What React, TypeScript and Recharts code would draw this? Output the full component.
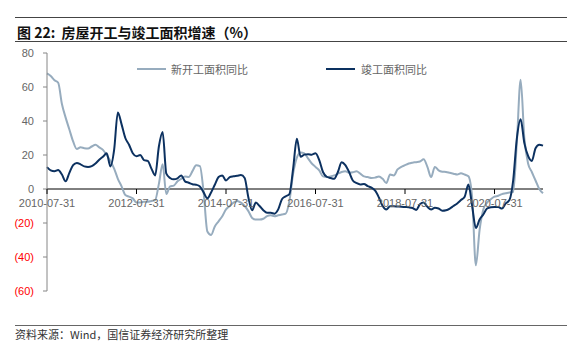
import React from 'react';
import { LineChart, Line, XAxis, YAxis, ReferenceLine } from 'recharts';

// monthly, 2010-07 .. 2021-08
const START_YEAR = 2010;
const START_MONTH = 7;

const newStartYoY = [
  68, 66.5, 64, 62.5, 50, 42, 35, 28, 23.5, 24.5, 24, 23.8, 25, 26, 24.5, 23, 20, 16.5, 12, 6,
  1.5, -3.5, -4.5, -5.5, -8, -8, -7.5, -7.5, -7, -6.5, 3, 14.5, -3, 1.5, 2, 4.5, 6, 7.4, 7, 10.5,
  14, 13.5, -2, -25, -27, -22, -19, -16, -12, -10, -8, -7, -8, -10, -13, -17, -18, -18, -17.5, -16,
  -15.5, -16, -15.5, -15, -14.5, -7, 9, 18.5, 21.5, 21, 18, 15, 13, 11, 7.4, 7, 7.4, 8, 9, 10,
  10.5, 9.5, 9.8, 10.4, 9, 7.4, 7, 6.5, 6.7, 7.4, 6, 3.5, 8.5, 8, 11.5, 13, 14, 15, 15.5, 15.8,
  16.2, 17.5, 13, 7, 13, 11, 10.2, 10, 9.5, 9, 8.5, 9.3, 8.5, 7.5, -5, -44.9, -24, -12, -8, -6,
  -4.5, -4, -3, -2.5, -2, -1.8, 28, 64.3, 30, 15, 10, 5, 0, -2.5,
];

const completionYoY = [
  12.9, 11, 10.5, 11.2, 8.5, 4.5, 9.5, 14, 15.3, 14.5, 13.3, 13, 13.5, 15, 17.2, 19, 21, 13.3, 23, 45,
  38, 30, 26, 21, 19.2, 20, 17, 16.5, 12, 8, 25, 33.5, 9, 6.5, 5.7, 6.3, 8, 4.5, 3.7, 2.8,
  2.5, 1.5, -2, -5.5, -2, 2.5, 7, 8, 5, 7, 7.5, 7.8, 8.2, 6.5, -5, -12.5, -8, -10, -12.5, -14,
  -14, -14.5, -12, -6, -4.3, -3, 12, 29.5, 19, 20.2, 20.5, 20.2, 21, 17, 10, 7.2, 6.5, 6, 10, 15.7,
  14, 10, 5, 3.5, 2.7, 3, 1.7, 0.8, -1, -5, -10, -12, -10.2, -10.2, -10.3, -10.4, -10.6, -10.8, -11.2, -12.3,
  -9, -8, -10.5, -12, -11, -11.5, -12.8, -12.5, -11.5, -10, -8.5, -6.5, -4.5, 2.6, -10, -22.9, -18, -15, -11.5, -10.7,
  -10.6, -10.6, -11.5, -8.5, -6.5, 5, 30, 41, 27, 19.5, 16.5, 24, 26, 25.5,
];

const xTicks = ['2010-07-31', '2012-07-31', '2014-07-31', '2016-07-31', '2018-07-31', '2020-07-31'];
const yTicks = [-60, -40, -20, 0, 20, 40, 60, 80];

const seriesNames = ['新开工面积同比', '竣工面积同比'];
const seriesColors = ['#97acbe', '#0c3160'];

const monthEnd = (k: number) => {
  const m0 = START_MONTH - 1 + k;
  const y = START_YEAR + Math.floor(m0 / 12);
  const m = (m0 % 12) + 1;
  const d = new Date(y, m, 0).getDate();
  return `${y}-${String(m).padStart(2, '0')}-${d}`;
};

const data = newStartYoY.map((v, i) => ({
  date: monthEnd(i),
  newStart: v,
  completion: completionYoY[i],
}));

const W = 582;
const H = 352;
const PLOT_TOP = 53;
const PLOT_BOTTOM = 291;
const X_AXIS_H = 20;
const Y_MIN = -60;
const Y_MAX = 80;
const ZERO_Y = PLOT_TOP + ((PLOT_BOTTOM - PLOT_TOP) * Y_MAX) / (Y_MAX - Y_MIN);

const numFont = '"Liberation Sans", Arial, sans-serif';
const cjkFont = '"Noto Sans CJK SC", "Noto Sans", sans-serif';

// x labels sit on the zero line, not at the bottom of the plot
const XTick = (props: any) => {
  const { x, payload } = props;
  return (
    <g>
      <line x1={x} x2={x} y1={ZERO_Y} y2={ZERO_Y + 5} stroke="#000" strokeWidth={1} />
      <text x={x} y={ZERO_Y + 18} textAnchor="middle" fontSize={11} fill="#666" fontFamily={numFont}>
        {payload.value}
      </text>
    </g>
  );
};

const YTick = (props: any) => {
  const { x, y, payload } = props;
  const v = payload.value as number;
  return (
    <text x={x} y={y + 4} textAnchor="end" fontSize={11} fill={v < 0 ? '#ff0000' : '#666'} fontFamily={numFont}>
      {v < 0 ? `(${Math.abs(v)})` : v}
    </text>
  );
};

const App: React.FC = () => (
  <div style={{ position: 'absolute', left: 0, top: 0, width: W, height: H, background: '#fff', overflow: 'hidden' }}>
    <div style={{ position: 'absolute', left: 15, top: 17, width: 552, borderTop: '1px solid #444' }} />
    <div
      style={{
        position: 'absolute',
        left: 17,
        top: 22,
        fontSize: 14,
        fontWeight: 'bold',
        fontFamily: cjkFont,
        color: '#111',
        whiteSpace: 'nowrap',
      }}
    >
      图 22:&nbsp;&nbsp;房屋开工与竣工面积增速（%）
    </div>
    <div style={{ position: 'absolute', left: 15, top: 41, width: 552, borderTop: '1px solid #444' }} />

    <div style={{ position: 'absolute', left: 0, top: 0 }}>
      <LineChart
        width={W}
        height={H}
        data={data}
        margin={{ top: PLOT_TOP, right: 39, bottom: H - PLOT_BOTTOM - X_AXIS_H, left: 0 }}
      >
        <XAxis
          dataKey="date"
          ticks={xTicks}
          interval={0}
          axisLine={false}
          tickLine={false}
          height={X_AXIS_H}
          tick={(p: any) => <XTick {...p} />}
        />
        <YAxis
          width={47}
          domain={[Y_MIN, Y_MAX]}
          ticks={yTicks}
          interval={0}
          axisLine={{ stroke: '#868686' }}
          tickLine={{ stroke: '#868686' }}
          tickSize={4}
          tickMargin={9}
          tick={(p: any) => <YTick {...p} />}
        />
        <ReferenceLine y={0} stroke="#000" strokeWidth={1} />
        <Line
          type="monotone"
          dataKey="newStart"
          name={seriesNames[0]}
          stroke={seriesColors[0]}
          strokeWidth={2}
          dot={false}
          isAnimationActive={false}
        />
        <Line
          type="monotone"
          dataKey="completion"
          name={seriesNames[1]}
          stroke={seriesColors[1]}
          strokeWidth={2}
          dot={false}
          isAnimationActive={false}
        />
      </LineChart>
    </div>

    {/* legend */}
    {[
      { lx: 137, tx: 171 },
      { lx: 326, tx: 361 },
    ].map((p, i) => (
      <React.Fragment key={i}>
        <div
          style={{
            position: 'absolute',
            left: p.lx,
            top: 68,
            width: 29,
            height: 2,
            background: seriesColors[i],
          }}
        />
        <div
          style={{
            position: 'absolute',
            left: p.tx,
            top: 61,
            fontSize: 11,
            fontFamily: cjkFont,
            color: '#666',
            whiteSpace: 'nowrap',
          }}
        >
          {seriesNames[i]}
        </div>
      </React.Fragment>
    ))}

    <div style={{ position: 'absolute', left: 15, top: 325, width: 552, borderTop: '1px solid #666' }} />
    <div
      style={{
        position: 'absolute',
        left: 15,
        top: 326,
        fontSize: 11,
        fontFamily: cjkFont,
        color: '#333',
        whiteSpace: 'nowrap',
      }}
    >
      资料来源：Wind，国信证券经济研究所整理
    </div>
  </div>
);

export default App;
